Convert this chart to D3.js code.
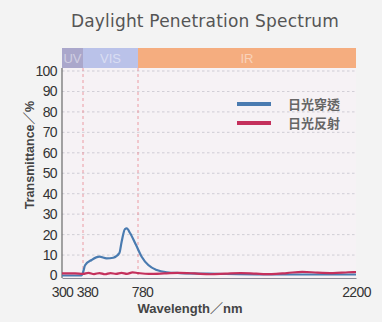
<!DOCTYPE html>
<html>
<head>
<meta charset="utf-8">
<script src="https://cdn.jsdelivr.net/npm/d3@7"></script>
<style>
  html, body { margin: 0; padding: 0; background: #f3f3f3; }
  svg { display: block; }
</style>
</head>
<body>
<div id="chart"></div>
<script>
// ── Data ────────────────────────────────────────────────────────────────
const xTicks = [300, 380, 780, 2200]
const yTicks = [0, 10, 20, 30, 40, 50, 60, 70, 80, 90, 100]
const bands = [
  { name: 'UV', from: 300, to: 380, color: '#aaa7cb' },
  { name: 'VIS', from: 380, to: 780, color: '#bac2e9' },
  { name: 'IR', from: 780, to: 2200, color: '#f5ad7f' }
]
const transmit = [
  [300, 0], [374, 0], [380, 1.5], [395, 5], [443, 7.6], [499, 9.2], [552, 8.4], [600, 8.7],
  [644, 10.9], [661, 16.5], [685, 22.7], [698, 23], [722, 20.8], [765, 15], [804, 9.2],
  [847, 5.1], [902, 2.7], [967, 1.6], [1050, 1.2], [1300, 0.8], [1600, 0.5], [1900, 0.5], [2200, 0.5]
]
const reflect = [
  [300, 1], [350, 1], [380, 0.8], [420, 1.3], [460, 0.7], [500, 1.2], [540, 0.6], [580, 1.2],
  [620, 0.8], [660, 1.3], [700, 0.8], [740, 1.5], [780, 1.2], [850, 0.8], [950, 1.0],
  [1050, 1.3], [1150, 1.0], [1250, 0.6], [1350, 0.9], [1450, 1.2], [1550, 0.9], [1650, 0.7],
  [1750, 1.2], [1850, 1.8], [1950, 1.4], [2050, 1.2], [2150, 1.6], [2200, 1.7]
]
const series = [
  { name: '日光穿透', color: '#4a7bb0', data: transmit },
  { name: '日光反射', color: '#c4305c', data: reflect }
]

const W = 382, H = 322

// piecewise scale, the reference stretches UV/VIS regions
const x = d3.scaleLinear().domain([300, 380, 780, 2200]).range([62, 83, 138, 356])
const y = d3.scaleLinear().domain([0, 100]).range([275.5, 71])

const svg = d3.select('#chart').append('svg').attr('width', W).attr('height', H)

// plot background
svg.append('rect').attr('x', x(300)).attr('y', 68).attr('width', x(2200) - x(300)).attr('height', 210)
  .attr('fill', '#f6f2f5')

// title
svg.append('text').attr('x', 205).attr('y', 27).attr('text-anchor', 'middle')
  .attr('font-family', 'DejaVu Sans, sans-serif').attr('font-size', 17).attr('fill', '#555')
  .attr('letter-spacing', 0.2)
  .text('Daylight Penetration Spectrum')

// top band
const bandG = svg.append('g')
bandG.selectAll('rect').data(bands).join('rect')
  .attr('x', d => x(d.from)).attr('y', 48).attr('width', d => x(d.to) - x(d.from)).attr('height', 20)
  .attr('fill', d => d.color)
bandG.selectAll('text').data(bands).join('text')
  .attr('x', d => (x(d.from) + x(d.to)) / 2).attr('y', 63).attr('text-anchor', 'middle')
  .attr('font-family', 'Liberation Sans, sans-serif').attr('font-size', 13).attr('fill', '#fff')
  .attr('opacity', 0.45)
  .text(d => d.name)

// grid
svg.append('g').selectAll('line').data(yTicks.filter(v => v > 0)).join('line')
  .attr('x1', x(300)).attr('x2', x(2200)).attr('y1', d => y(d)).attr('y2', d => y(d))
  .attr('stroke', '#a0a0ae').attr('stroke-width', 0.8).attr('stroke-dasharray', '2.5,2.5').attr('opacity', 0.55)

// red dashed boundaries at 380 / 780
svg.append('g').selectAll('line').data([380, 780]).join('line')
  .attr('x1', d => x(d)).attr('x2', d => x(d)).attr('y1', 68).attr('y2', 278)
  .attr('stroke', '#e87a86').attr('stroke-width', 0.9).attr('stroke-dasharray', '3,3').attr('opacity', 0.8)

// axes
const yAxis = svg.append('g').attr('transform', `translate(${x(300)},0)`)
  .call(d3.axisLeft(y).tickValues(yTicks).tickSize(0).tickPadding(5))
yAxis.select('.domain').attr('stroke', '#6a6a6a').attr('stroke-width', 1.2)
  .attr('d', `M0,68V278`)
yAxis.selectAll('text').attr('font-family', 'Liberation Sans Narrow, Liberation Sans, sans-serif')
  .attr('font-size', 14).attr('fill', '#333').attr('letter-spacing', -0.6)

const xAxis = svg.append('g').attr('transform', 'translate(0,278)')
  .call(d3.axisBottom(x).tickValues(xTicks).tickSize(0).tickPadding(9).tickFormat(d3.format('d')))
xAxis.select('.domain').attr('stroke', '#8a8a98').attr('stroke-width', 1)
xAxis.selectAll('text').attr('font-family', 'Liberation Sans Narrow, Liberation Sans, sans-serif')
  .attr('font-size', 14).attr('fill', '#333').attr('letter-spacing', -0.6)
  .attr('dx', d => d === 380 || d === 780 ? 4 : 0)

// series lines
const line = d3.line().x(d => x(d[0])).y(d => y(d[1])).curve(d3.curveMonotoneX)
svg.append('g').selectAll('path').data(series).join('path')
  .attr('d', d => line(d.data)).attr('fill', 'none')
  .attr('stroke', d => d.color).attr('stroke-width', 2.2).attr('stroke-linejoin', 'round')

// legend
const leg = svg.append('g').attr('transform', 'translate(237,104)')
series.forEach((s, i) => {
  leg.append('line').attr('x1', 0).attr('x2', 34).attr('y1', i * 19).attr('y2', i * 19)
    .attr('stroke', s.color).attr('stroke-width', 4)
  leg.append('text').attr('x', 51).attr('y', i * 19 + 5)
    .attr('font-family', 'Noto Sans CJK TC, sans-serif').attr('font-size', 13).attr('font-weight', 'bold')
    .attr('fill', '#666').text(s.name)
})

// axis titles
svg.append('text').attr('transform', 'translate(34,155) rotate(-90)').attr('text-anchor', 'middle')
  .attr('font-family', 'Liberation Sans, Noto Sans CJK TC, sans-serif').attr('font-size', 12.5).attr('font-weight', 'bold')
  .attr('fill', '#444').text('Transmittance／%')
svg.append('text').attr('x', 190).attr('y', 313).attr('text-anchor', 'middle')
  .attr('font-family', 'Liberation Sans, Noto Sans CJK TC, sans-serif').attr('font-size', 13).attr('font-weight', 'bold')
  .attr('fill', '#444').text('Wavelength／nm')
</script>
</body>
</html>
